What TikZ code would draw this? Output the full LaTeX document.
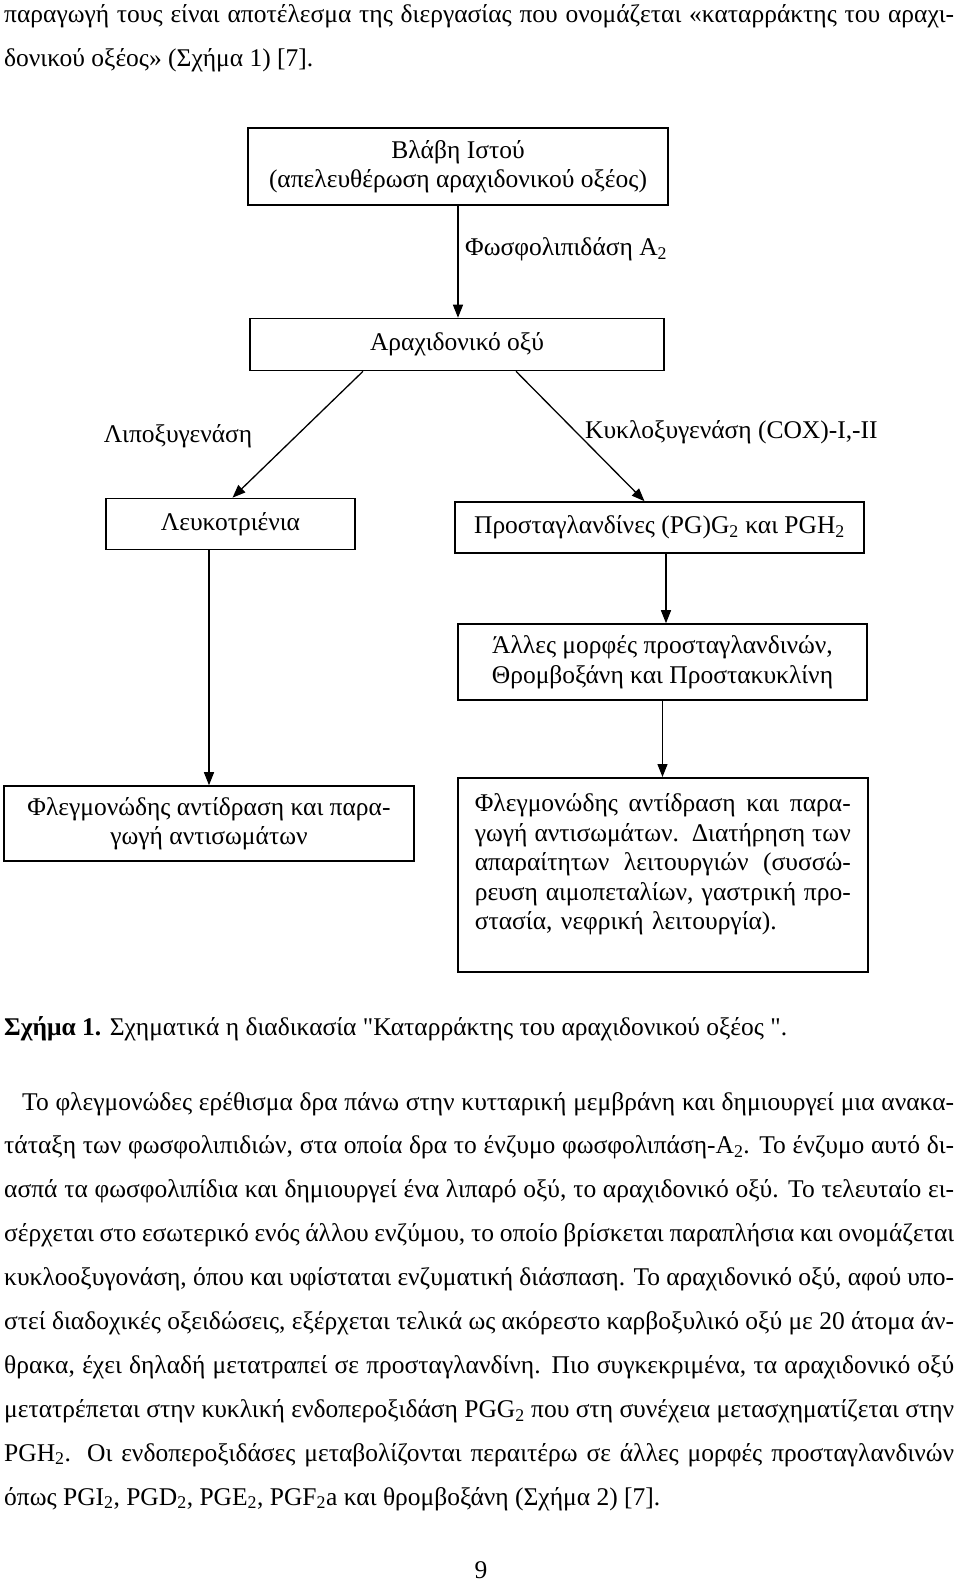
\documentclass[tikz,border=0pt]{standalone}
\usepackage{fontspec}
\setmainfont{Liberation Serif}[Ligatures=TeXOff]
\usetikzlibrary{arrows.meta}
\newcommand{\jl}[2]{\hbox to #1{\spaceskip=0.25em plus 0.8em minus 0.15em\relax #2}}
\begin{document}
\begin{tikzpicture}[x=1pt,y=-1pt,
  every node/.style={font=\fontsize{25.5}{29.5}\selectfont, inner sep=0pt},
  box/.style={draw, line width=1.6pt, align=center},
  arr/.style={line width=1.3pt, -{Triangle[length=13pt,width=10pt]}},
  txt/.style={anchor=base west}]
\fill[white] (0,0) rectangle (960,1582);
\useasboundingbox (0,0) rectangle (960,1582);
% top text
\node[txt] (t1) at (4,22) {\jl{950pt}{παραγωγή τους είναι αποτέλεσμα της διεργασίας που ονομάζεται «καταρράκτης του αραχι-}};
\node[txt] (t2) at (4,66) {δονικού οξέος» (Σχήμα 1) [7].};
% boxes
\node[box, minimum width=420pt, minimum height=77pt] (b1) at (458,166.5) {Βλάβη Ιστού\\(απελευθέρωση αραχιδονικού οξέος)};
\node[box, minimum width=414pt, minimum height=52pt] (b2) at (457,344.5) {Αραχιδονικό οξύ};
\node[box, minimum width=249pt, minimum height=51pt] (bL) at (230.5,524) {Λευκοτριένια};
\node[box, minimum width=409pt, minimum height=51pt] (bP) at (659.5,527.5) {Προσταγλανδίνες (PG)G\textsubscript{2} και PGH\textsubscript{2}};
\node[box, minimum width=409pt, minimum height=76pt] (bA) at (662.5,662) {Άλλες μορφές προσταγλανδινών,\\Θρομβοξάνη και Προστακυκλίνη};
\node[box, minimum width=410pt, minimum height=75pt] (bF1) at (209,823.5) {Φλεγμονώδης αντίδραση και παρα-\\γωγή αντισωμάτων};
\node[box, anchor=north west, inner xsep=17pt, inner ysep=16pt, text width=376pt, align=left] (bF2) at (457,777) {\vbox to 162pt{%
\jl{376pt}{Φλεγμονώδης αντίδραση και παρα-}
\jl{376pt}{γωγή αντισωμάτων. Διατήρηση των}
\jl{376pt}{απαραίτητων λειτουργιών (συσσώ-}
\jl{376pt}{ρευση αιμοπεταλίων, γαστρική προ-}
\hbox{στασία, νεφρική λειτουργία).}\vfill}};
% labels
\node[anchor=west] (lpla) at (465,249) {Φωσφολιπιδάση A\textsubscript{2}};
\node (llip) at (178,436) {Λιποξυγενάση};
\node[anchor=west] (lcox) at (585,432) {Κυκλοξυγενάση (COX)-I,-II};
% arrows
\draw[arr] (b1.south) -- (b1.south |- b2.north);
\draw[arr] ([xshift=-94pt]b2.south) -- ([xshift=2pt]bL.north);
\draw[arr] ([xshift=59pt]b2.south) -- ([xshift=-15pt]bP.north);
\draw[arr] ([xshift=6.5pt]bP.south) -- ([xshift=6.5pt]bP.south |- bA.north);
\draw[arr] (bA.south) -- (bA.south |- bF2.north);
\draw[arr] (bF1.north |- bL.south) -- (bF1.north);
% caption
\node[txt] (cap) at (4,1035) {\textbf{Σχήμα 1.} Σχηματικά η διαδικασία "Καταρράκτης του αραχιδονικού οξέος ".};
% paragraph
\node[txt] (p1) at (22,1110) {\jl{932pt}{Το φλεγμονώδες ερέθισμα δρα πάνω στην κυτταρική μεμβράνη και δημιουργεί μια ανακα-}};
\node[txt] (p2) at (4,1153.9) {\jl{950pt}{τάταξη των φωσφολιπιδιών, στα οποία δρα το ένζυμο φωσφολιπάση-A\textsubscript{2}. Το ένζυμο αυτό δι-}};
\node[txt] (p3) at (4,1197.8) {\jl{950pt}{ασπά τα φωσφολιπίδια και δημιουργεί ένα λιπαρό οξύ, το αραχιδονικό οξύ. Το τελευταίο ει-}};
\node[txt] (p4) at (4,1241.7) {\jl{950pt}{σέρχεται στο εσωτερικό ενός άλλου ενζύμου, το οποίο βρίσκεται παραπλήσια και ονομάζεται}};
\node[txt] (p5) at (4,1285.6) {\jl{950pt}{κυκλοοξυγονάση, όπου και υφίσταται ενζυματική διάσπαση. Το αραχιδονικό οξύ, αφού υπο-}};
\node[txt] (p6) at (4,1329.5) {\jl{950pt}{στεί διαδοχικές οξειδώσεις, εξέρχεται τελικά ως ακόρεστο καρβοξυλικό οξύ με 20 άτομα άν-}};
\node[txt] (p7) at (4,1373.4) {\jl{950pt}{θρακα, έχει δηλαδή μετατραπεί σε προσταγλανδίνη. Πιο συγκεκριμένα, τα αραχιδονικό οξύ}};
\node[txt] (p8) at (4,1417.3) {\jl{950pt}{μετατρέπεται στην κυκλική ενδοπεροξιδάση PGG\textsubscript{2} που στη συνέχεια μετασχηματίζεται στην}};
\node[txt] (p9) at (4,1461.2) {\jl{950pt}{PGH\textsubscript{2}. Οι ενδοπεροξιδάσες μεταβολίζονται περαιτέρω σε άλλες μορφές προσταγλανδινών}};
\node[txt] (p10) at (4,1505.1) {όπως PGI\textsubscript{2}, PGD\textsubscript{2}, PGE\textsubscript{2}, PGF\textsubscript{2}a και θρομβοξάνη (Σχήμα 2) [7].};
\node[anchor=base] (pn) at (481,1578) {9};
\end{tikzpicture}
\end{document}
